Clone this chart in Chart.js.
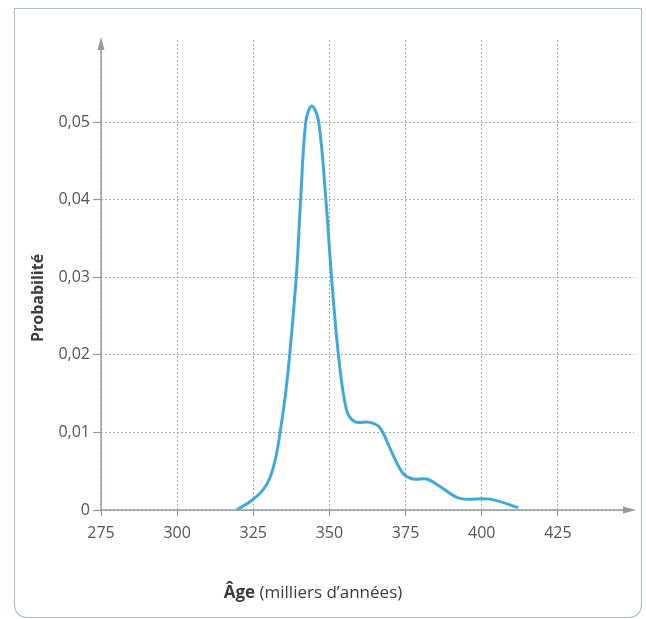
<!DOCTYPE html>
<html>
<head>
<meta charset="utf-8">
<script src="https://cdn.jsdelivr.net/npm/chart.js@4.4.0/dist/chart.umd.min.js"></script>
<style>
  html, body { margin: 0; padding: 0; background: #fff; }
  #wrap { width: 646px; height: 619px; }
</style>
</head>
<body>
<div id="wrap"><canvas id="myChart" width="646" height="619"></canvas></div>
<script>
// age (thousands of years) and probability
const ages = [319.5, 324.0, 328.0, 330.5, 332.5, 334.0, 335.6, 337.0, 339.2, 340.6, 342.3, 344.2, 346.4, 348.8, 350.7, 352.9, 355.6, 358.3, 363.3, 366.6, 370.4, 374.2, 377.5, 381.9, 385.7, 392.8, 402.7, 412.0]
const probs = [0, 0.0011, 0.0025, 0.0042, 0.0070, 0.0105, 0.0150, 0.0202, 0.0305, 0.0404, 0.0502, 0.0521, 0.0502, 0.0402, 0.0300, 0.0202, 0.0129, 0.0114, 0.0113, 0.0106, 0.0075, 0.0047, 0.0040, 0.0040, 0.0032, 0.0015, 0.0014, 0.0003]

const xTicks = [275, 300, 325, 350, 375, 400, 425]
const yTicks = [0, 0.01, 0.02, 0.03, 0.04, 0.05]

const axisColor = '#8e9ca0'
const gridColor = '#a3abad'
const labelColor = '#555'

// frame, axes with arrows and axis titles
const decor = {
    id: 'decor',
    beforeDraw(chart) {
        const ctx = chart.ctx
        ctx.save()
        ctx.fillStyle = '#fff'
        ctx.fillRect(0, 0, chart.width, chart.height)
        const l = 14.5, t = 8.5, r = 641.5, b = 617.5, rad = 14
        ctx.strokeStyle = '#a9c3ca'
        ctx.lineWidth = 1.2
        ctx.beginPath()
        ctx.moveTo(l, t)
        ctx.lineTo(r, t)
        ctx.lineTo(r, b - rad)
        ctx.quadraticCurveTo(r, b, r - rad, b)
        ctx.lineTo(l + rad, b)
        ctx.quadraticCurveTo(l, b, l, b - rad)
        ctx.closePath()
        ctx.stroke()
        ctx.restore()
    },
    afterDatasetsDraw(chart) {
        const ctx = chart.ctx
        const a = chart.chartArea
        ctx.save()
        ctx.strokeStyle = axisColor
        ctx.lineWidth = 1.4
        ctx.beginPath()
        ctx.moveTo(a.left, a.bottom)
        ctx.lineTo(a.left, a.top + 4)
        ctx.moveTo(a.left, a.bottom)
        ctx.lineTo(a.right - 6, a.bottom)
        ctx.stroke()
        ctx.fillStyle = axisColor
        // y arrow
        ctx.beginPath()
        ctx.moveTo(a.left, a.top - 3)
        ctx.lineTo(a.left - 3.5, a.top + 10)
        ctx.lineTo(a.left + 3.5, a.top + 10)
        ctx.closePath()
        ctx.fill()
        // x arrow
        ctx.beginPath()
        ctx.moveTo(a.right + 2, a.bottom)
        ctx.lineTo(a.right - 11, a.bottom - 3.5)
        ctx.lineTo(a.right - 11, a.bottom + 3.5)
        ctx.closePath()
        ctx.fill()
        ctx.restore()
    },
    afterDraw(chart) {
        const ctx = chart.ctx
        ctx.save()
        // y title
        ctx.fillStyle = '#3d3d3d'
        ctx.save()
        ctx.translate(38, 298)
        ctx.rotate(-Math.PI / 2)
        ctx.font = 'bold 16px "Open Sans"'
        ctx.textAlign = 'center'
        ctx.textBaseline = 'middle'
        ctx.fillText('Probabilité', 0, 0)
        ctx.restore()

        // x title, first word bold
        const boldFont = 'bold 17px "Open Sans"'
        const normFont = '17px "Open Sans"'
        const part1 = 'Âge', part2 = ' (milliers d’années)'
        ctx.font = boldFont
        const w1 = ctx.measureText(part1).width
        ctx.font = normFont
        const w2 = ctx.measureText(part2).width
        let x = 313 - (w1 + w2) / 2
        ctx.textBaseline = 'middle'
        ctx.textAlign = 'left'
        ctx.font = boldFont
        ctx.fillText(part1, x, 593)
        ctx.font = normFont
        ctx.fillText(part2, x + w1, 593)
        ctx.restore()
    }
}

const ctx = document.getElementById('myChart').getContext('2d')
const chart = new Chart(ctx, {
    type: 'scatter',
    data: {
        datasets: [{
            label: 'Probabilité',
            data: ages.map((a, i) => ({x: a, y: probs[i]})),
            showLine: true,
            borderColor: '#3fa9db',
            borderWidth: 3,
            pointRadius: 0,
            tension: 0.35,
            fill: false
        }]
    },
    options: {
        responsive: false,
        animation: false,
        layout: { padding: { left: 0, top: 40, right: 12, bottom: 0 } },
        plugins: {
            legend: { display: false },
            tooltip: { enabled: false }
        },
        scales: {
            x: {
                type: 'linear',
                min: 275,
                max: 450,
                afterBuildTicks: s => { s.ticks = xTicks.map(v => ({value: v})) },
                afterFit: s => { s.height = 109 },
                ticks: {
                    color: labelColor,
                    font: { family: '"Open Sans"', size: 16 },
                    padding: 8,
                    maxRotation: 0
                },
                grid: {
                    color: gridColor,
                    lineWidth: 1,
                    tickLength: 6,
                    tickColor: axisColor,
                    tickWidth: 1.2
                },
                border: { display: false, dash: [2, 2] }
            },
            y: {
                min: 0,
                max: 0.0606,
                afterBuildTicks: s => { s.ticks = yTicks.map(v => ({value: v})) },
                afterFit: s => { s.width = 101 },
                ticks: {
                    color: labelColor,
                    font: { family: '"Open Sans"', size: 16 },
                    padding: 3,
                    callback: v => v === 0 ? '0' : v.toFixed(2).replace('.', ',')
                },
                grid: {
                    color: gridColor,
                    lineWidth: 1,
                    tickLength: 8,
                    tickColor: axisColor,
                    tickWidth: 1.2
                },
                border: { display: false, dash: [2, 2] }
            }
        }
    },
    plugins: [decor]
})
</script>
</body>
</html>
